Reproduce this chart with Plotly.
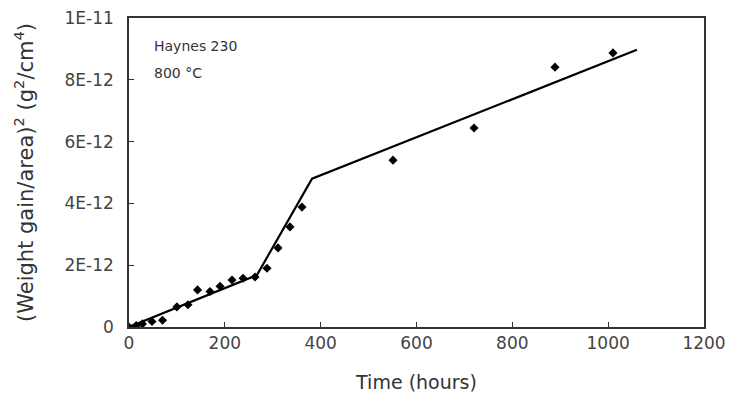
import plotly.graph_objects as go

# measured data points (hours, weight gain^2 in 1E-12 g^2/cm^4)
hours = [0, 15, 28, 48, 70, 100, 123, 143, 169, 190, 215, 238, 263, 288, 311, 336, 361, 551, 720, 889, 1010]
gain = [0.0, 0.05, 0.1, 0.18, 0.22, 0.65, 0.72, 1.2, 1.15, 1.32, 1.52, 1.58, 1.62, 1.9, 2.56, 3.24, 3.88, 5.4, 6.44, 8.41, 8.87]

# fitted piecewise line
fit_hours = [0, 267, 382, 1060]
fit_gain = [0.0, 1.68, 4.8, 8.97]

scale = 1e-12
ytick_vals = [0, 2e-12, 4e-12, 6e-12, 8e-12, 1e-11]
ytick_text = ["0", "2E-12", "4E-12", "6E-12", "8E-12", "1E-11"]
xtick_vals = [0, 200, 400, 600, 800, 1000, 1200]

fig = go.Figure()
fig.add_trace(go.Scatter(x=fit_hours, y=[g * scale for g in fit_gain], mode="lines",
                         line=dict(color="black", width=2.2), showlegend=False))
fig.add_trace(go.Scatter(x=hours, y=[g * scale for g in gain], mode="markers",
                         marker=dict(color="black", size=7, symbol="diamond"), showlegend=False))

font_family = "DejaVu Sans, Liberation Sans, sans-serif"
fig.update_layout(
    width=731, height=405,
    margin=dict(l=129, r=27, t=18, b=78),
    paper_bgcolor="white", plot_bgcolor="white",
    font=dict(family=font_family, color="#333333", size=14),
    xaxis=dict(range=[0, 1200], tickvals=xtick_vals, ticks="inside", ticklen=5,
               tickcolor="#333", showline=True, linecolor="#333", linewidth=1.5,
               mirror=True, showgrid=False, zeroline=False, automargin=False,
               tickfont=dict(size=17, color="#444"),
               title=dict(text="Time (hours)", font=dict(size=19, color="#333"), standoff=24)),
    yaxis=dict(range=[0, 1e-11], tickvals=ytick_vals, ticktext=ytick_text, ticks="inside",
               ticklen=5, tickcolor="#333", showline=True, linecolor="#333", linewidth=1.5,
               mirror=True, showgrid=False, zeroline=False, automargin=False,
               tickfont=dict(size=17, color="#444"), ticklabelstandoff=10,
               title=dict(text="(Weight gain/area)<sup>2</sup> (g<sup>2</sup>/cm<sup>4</sup>)",
                          font=dict(size=21, color="#333"), standoff=25)),
)
fig.add_annotation(x=0.04, y=0.91, xref="paper", yref="paper",
                   text="Haynes 230", showarrow=False, align="left",
                   xanchor="left", yanchor="middle", font=dict(size=14, color="#333"))
fig.add_annotation(x=0.04, y=0.823, xref="paper", yref="paper",
                   text="800 °C", showarrow=False, align="left",
                   xanchor="left", yanchor="middle", font=dict(size=14, color="#333"))

fig.write_html("out.html")
